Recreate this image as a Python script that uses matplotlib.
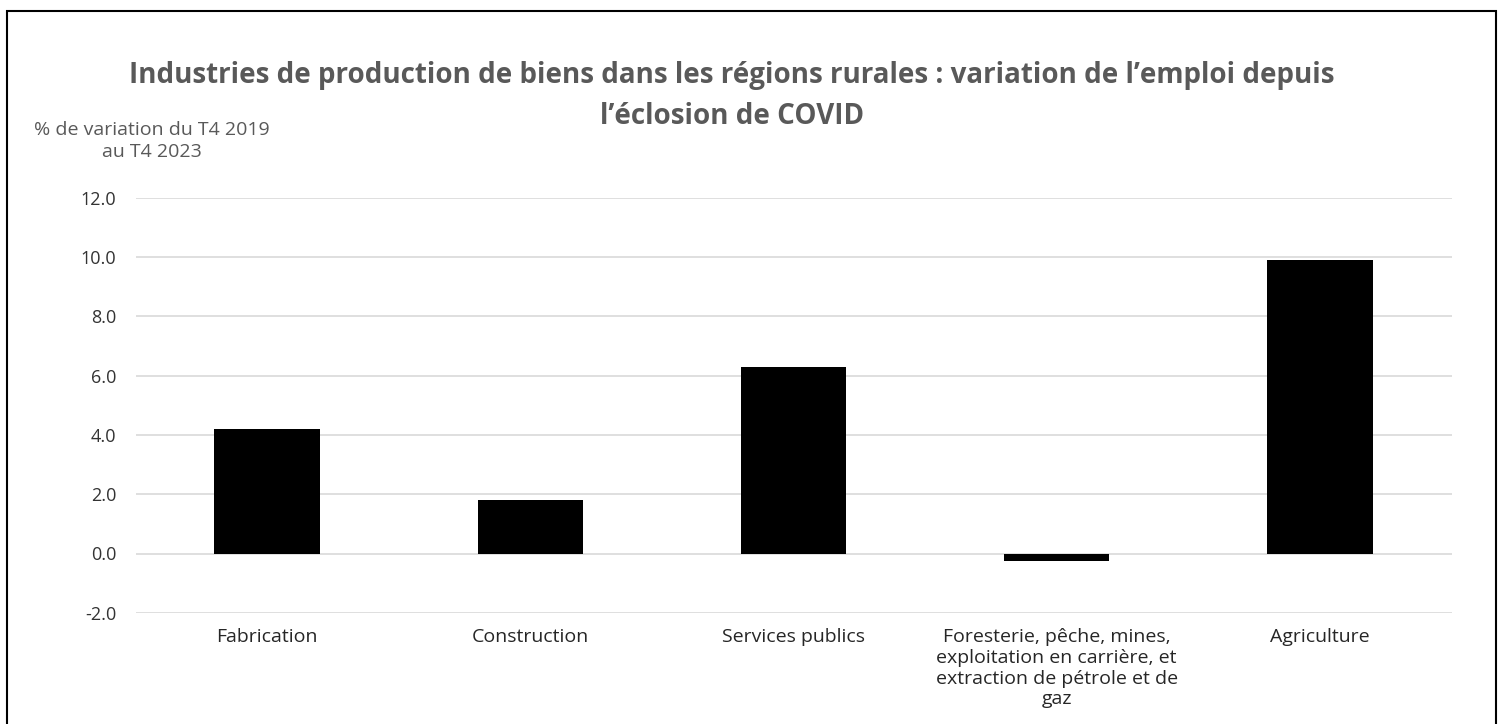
import matplotlib.pyplot as plt
import numpy as np

# data
categories = ['Fabrication', 'Construction', 'Services publics',
              'Foresterie, pêche, mines,\nexploitation en carrière, et\nextraction de pétrole et de\ngaz',
              'Agriculture']
values = [4.2, 1.8, 6.3, -0.25, 9.9]
yticks = [-2.0, 0.0, 2.0, 4.0, 6.0, 8.0, 10.0, 12.0]

title_lines = ["Industries de production de biens dans les régions rurales : variation de l\u2019emploi depuis",
               "l\u2019éclosion de COVID"]
ylab = "% de variation du T4 2019\nau T4 2023"

plt.rcParams['font.family'] = ['Open Sans', 'DejaVu Sans']

W, H = 1501, 724
fig = plt.figure(figsize=(W / 100, H / 100), dpi=100, facecolor='white')
ax = fig.add_axes([135.5 / W, 1 - 612.8 / H, (1451.5 - 135.5) / W, (612.8 - 197.7) / H])

x = np.arange(len(categories))
ax.bar(x, values, width=0.4, color='black', zorder=3)

ax.set_xlim(-0.5, len(categories) - 0.5)
ax.set_ylim(-2, 12)
ax.set_yticks(yticks)
ax.set_yticklabels(['%.1f' % v for v in yticks], fontsize=13, color='#333333')
ax.yaxis.grid(True, color='#d9d9d9', lw=1.2, zorder=0)
ax.tick_params(axis='y', length=0, pad=14)
ax.tick_params(axis='x', length=0, pad=11)
ax.set_xticks(x)
ax.set_xticklabels(categories, fontsize=14, color='#262626', va='top', linespacing=1.2)
for s in ax.spines.values():
    s.set_visible(False)

# title, one text per line
for txt, ypix in zip(title_lines, [75, 116]):
    fig.text(732 / W, 1 - ypix / H, txt, ha='center', va='center', fontsize=20,
             fontweight='bold', color='#595959')
fig.text(152 / W, 1 - 141 / H, ylab, ha='center', va='center', fontsize=14,
         color='#595959', linespacing=1.25)

# frame around the image (bottom edge is cut off)
fig.add_artist(plt.Rectangle((7 / W, -0.1), (1496 - 7) / W, (H - 11) / H + 0.1,
                             fill=False, lw=1.5, edgecolor='black', transform=fig.transFigure))

fig.savefig('out.png', dpi=100, facecolor='white')
